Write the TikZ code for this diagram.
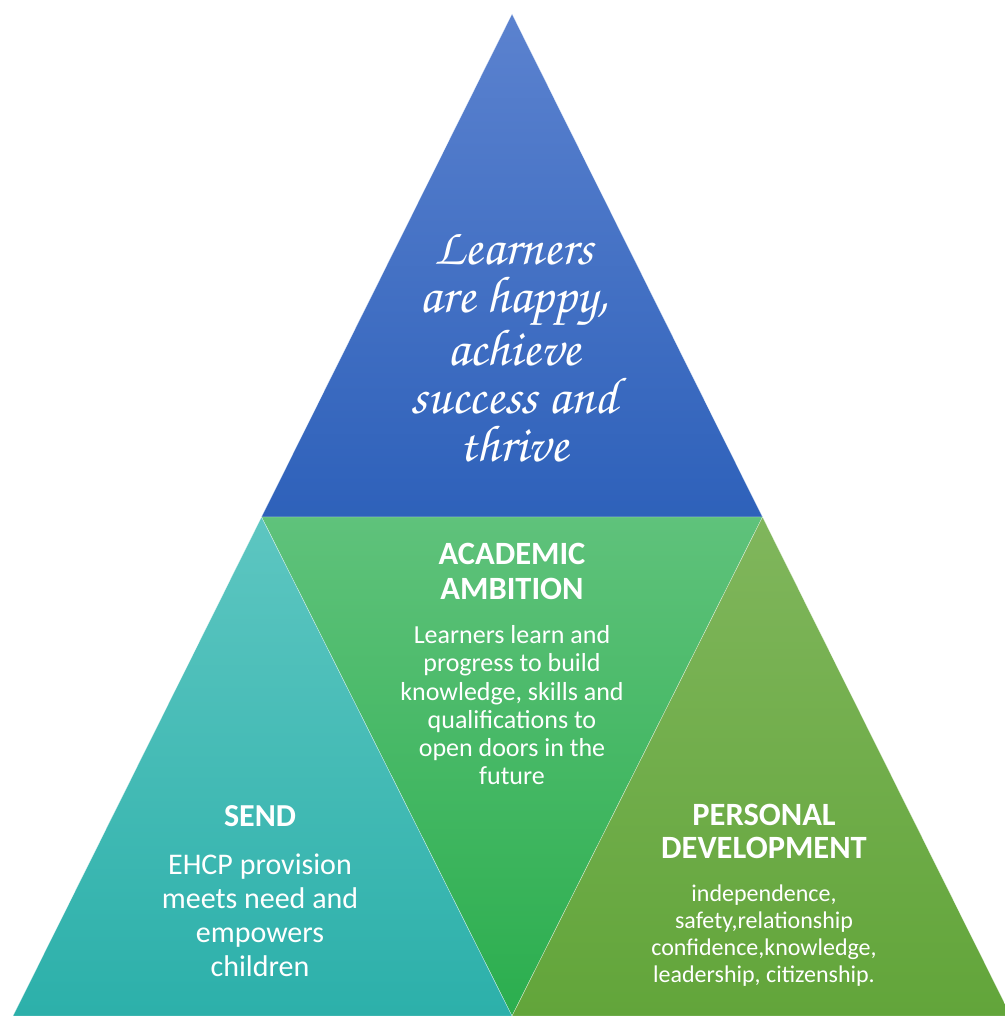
\documentclass[tikz,border=0pt]{standalone}
\usepackage[T1]{fontenc}
\usepackage{fontspec}
\setmainfont{Carlito}
\definecolor{topA}{HTML}{5B82CF}
\definecolor{topB}{HTML}{2E61BA}
\definecolor{midA}{HTML}{5FC27B}
\definecolor{midB}{HTML}{2BAE4E}
\definecolor{lefA}{HTML}{5DC6C1}
\definecolor{lefB}{HTML}{2CB0AA}
\definecolor{rigA}{HTML}{80B65C}
\definecolor{rigB}{HTML}{62A53A}
\newcommand{\handfont}{\fontencoding{T1}\fontfamily{pzc}\fontseries{mb}\fontshape{it}\selectfont}
\tikzset{
  facet/.style={draw=white, draw opacity=0.6, line width=0.4pt},
  headtxt/.style={text=white, align=center, inner sep=0pt, anchor=base},
  bodytxt/.style={text=white, align=center, inner sep=0pt, anchor=base},
}
\begin{document}
\begin{tikzpicture}[x=1pt,y=1pt]
\useasboundingbox (0,0) rectangle (1004,1016);
\coordinate (A) at (512,1002);
\coordinate (L) at (261.5,499);
\coordinate (R) at (762.5,499);
\coordinate (M) at (512,0);
\coordinate (BL) at (13,0);
\coordinate (BR) at (1011,0);
\path[facet, top color=topA, bottom color=topB] (A) -- (L) -- (R) -- cycle;
\path[facet, top color=midA, bottom color=midB] (L) -- (R) -- (M) -- cycle;
\path[facet, top color=lefA, bottom color=lefB] (L) -- (M) -- (BL) -- cycle;
\path[facet, top color=rigA, bottom color=rigB] (R) -- (BR) -- (M) -- cycle;

% base anchor = baseline of the last line
\node[bodytxt, font={\handfont\fontsize{52}{48}\selectfont}] (toptext) at (514,554)
  {Learners\\are happy,\\achieve\\success and\\thrive};

\node[headtxt, font={\bfseries\fontsize{32.5}{35}\selectfont}] (acadhead) at (512,416)
  {ACADEMIC\\AMBITION};
\node[bodytxt, font={\fontsize{26}{28.3}\selectfont}] (acadbody) at (512,231)
  {Learners learn and\\progress to build\\knowledge, skills and\\qualifications to\\open doors in the\\future};

\node[headtxt, font={\bfseries\fontsize{32}{34}\selectfont}] (sendhead) at (260,189)
  {SEND};
\node[bodytxt, font={\fontsize{30}{34}\selectfont}] (sendbody) at (260,39)
  {EHCP provision\\meets need and\\empowers\\children};

\node[headtxt, font={\bfseries\fontsize{32.5}{33}\selectfont}] (pershead) at (764,157)
  {PERSONAL\\DEVELOPMENT};
\node[bodytxt, font={\fontsize{24}{27}\selectfont}] (persbody) at (764,33)
  {independence,\\safety,relationship\\confidence,knowledge,\\leadership, citizenship.};
\end{tikzpicture}
\end{document}
